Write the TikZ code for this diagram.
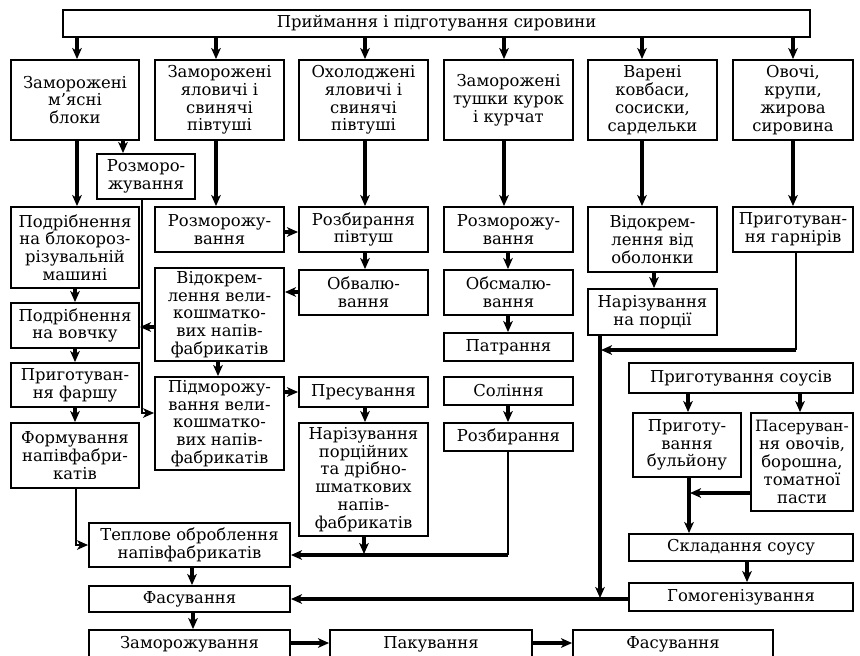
\documentclass[tikz,border=0pt]{standalone}
\usepackage{fontspec}
\setmainfont{DejaVu Serif}
\usetikzlibrary{arrows.meta}
\tikzset{
  box/.style={draw, line width=0.95pt, inner sep=0pt, align=center, font=\fontsize{8.2}{8.9}\selectfont},
  arr/.style={line width=1.6pt, -{Stealth[length=5.5pt,width=4.8pt,inset=1.5pt]}},
  tarr/.style={line width=0.8pt, -{Stealth[length=5.5pt,width=4.8pt,inset=1.5pt]}},
  ln/.style={line width=0.8pt},
}
\newcommand\bx[6]{\node[box, minimum width={(#4-#2)*0.5pt}, minimum height={(#5-#3)*0.5pt}] (#1) at ({(#2+#4)/2},{(#3+#5)/2}) {#6};}
\begin{document}
\begin{tikzpicture}[x=0.5pt,y=-0.5pt]
\useasboundingbox (0,0) rectangle (860,655);
\bx{top}{63}{10}{810}{37}{Приймання і підготування сировини}
\bx{A}{11}{60}{139}{140}{Заморожені\\м’ясні\\блоки}
\bx{B}{155}{60}{284}{140}{Заморожені\\яловичі і\\свинячі\\півтуші}
\bx{C}{299}{60}{428}{140}{Охолоджені\\яловичі і\\свинячі\\півтуші}
\bx{D}{444}{60}{573}{140}{Заморожені\\тушки курок\\і курчат}
\bx{E}{588}{60}{717}{140}{Варені\\ковбаси,\\сосиски,\\сардельки}
\bx{F}{733}{60}{853}{140}{Овочі,\\крупи,\\жирова\\сировина}
\bx{rz}{97}{154}{195}{199}{Розморо-\\жування}
\bx{A1}{11}{207}{139}{288}{Подрібнення\\на блокороз-\\різувальній\\машині}
\bx{A2}{11}{303}{139}{348}{Подрібнення\\на вовчку}
\bx{A3}{11}{363}{139}{407}{Приготуван-\\ня фаршу}
\bx{A4}{11}{423}{139}{488}{Формування\\напівфабри-\\катів}
\bx{B1}{155}{207}{284}{252}{Розморожу-\\вання}
\bx{B2}{155}{268}{284}{361}{Відокрем-\\лення вели-\\кошматко-\\вих напів-\\фабрикатів}
\bx{B3}{155}{377}{284}{470}{Підморожу-\\вання вели-\\кошматко-\\вих напів-\\фабрикатів}
\bx{C1}{299}{207}{428}{252}{Розбирання\\півтуш}
\bx{C2}{299}{270}{428}{315}{Обвалю-\\вання}
\bx{C3}{299}{377}{428}{407}{Пресування}
\bx{C4}{299}{423}{428}{536}{Нарізування\\порційних\\та дрібно-\\шматкових\\напів-\\фабрикатів}
\bx{D1}{444}{207}{573}{252}{Розморожу-\\вання}
\bx{D2}{444}{270}{573}{315}{Обсмалю-\\вання}
\bx{D3}{444}{333}{573}{361}{Патрання}
\bx{D4}{444}{377}{573}{405}{Соління}
\bx{D5}{444}{423}{573}{451}{Розбирання}
\bx{E1}{588}{207}{717}{272}{Відокрем-\\лення від\\оболонки}
\bx{E2}{588}{289}{717}{335}{Нарізування\\на порції}
\bx{F1}{733}{207}{853}{252}{Приготуван-\\ня гарнірів}
\bx{S0}{629}{363}{853}{393}{Приготування соусів}
\bx{S1}{633}{413}{741}{477}{Приготу-\\вання\\бульйону}
\bx{S2}{751}{413}{853}{511}{\fontsize{7.8}{8.9}\selectfont Пасеруван-\\ня овочів,\\борошна,\\томатної\\пасти}
\bx{S3}{629}{534}{853}{561}{Складання соусу}
\bx{S4}{629}{583}{853}{611}{Гомогенізування}
\bx{T1}{89}{523}{290}{567}{Теплове оброблення\\напівфабрикатів}
\bx{T2}{89}{586}{290}{612}{Фасування}
\bx{T3}{89}{630}{290}{659}{Заморожування}
\bx{T4}{330}{630}{532}{659}{Пакування}
\bx{T5}{573}{630}{773}{659}{Фасування}
% top distribution
\foreach \n/\x in {A/77,B/216,C/365,D/504,E/642,F/793}
  \draw[arr] (\x,0 |- top.south) -- (\x,0 |- \n.north);
% column A
\draw[arr] (77,0 |- A.south) -- (77,0 |- A1.north);
\draw[arr] (123,0 |- A.south) -- (123,0 |- rz.north);
\draw[arr] (75,0 |- A1.south) -- (75,0 |- A2.north);
\draw[arr] (75,0 |- A2.south) -- (75,0 |- A3.north);
\draw[arr] (75,0 |- A3.south) -- (75,0 |- A4.north);
\draw[tarr] (142,0 |- rz.south) -- (142,413) -- (B3.west |- 0,413);
\draw[arr] (B2.west |- 0,327) -- (A2.east |- 0,327);
\draw[tarr] (76,0 |- A4.south) -- (76,545) -- (T1.west |- 0,545);
% column B / C
\draw[arr] (216,0 |- B.south) -- (216,0 |- B1.north);
\draw[arr] (B1.east |- 0,232) -- (C1.west |- 0,232);
\draw[arr] (365,0 |- C.south) -- (365,0 |- C1.north);
\draw[arr] (365,0 |- C1.south) -- (365,0 |- C2.north);
\draw[arr] (C2.west |- 0,292) -- (B2.east |- 0,292);
\draw[arr] (218,0 |- B2.south) -- (218,0 |- B3.north);
\draw[arr] (B3.east |- 0,392) -- (C3.west |- 0,392);
\draw[arr] (365,0 |- C3.south) -- (365,0 |- C4.north);
\draw[arr] (364,0 |- C4.south) -- (364,554);
% column D
\draw[arr] (504,0 |- D.south) -- (504,0 |- D1.north);
\draw[arr] (508,0 |- D1.south) -- (508,0 |- D2.north);
\draw[arr] (508,0 |- D2.south) -- (508,0 |- D3.north);
\draw[arr] (508,0 |- D4.south) -- (508,0 |- D5.north);
\draw[ln] (508,0 |- D5.south) -- (508,555);
\draw[arr] (508.4,555) -- (T1.east |- 0,555);
% column E / F
\draw[arr] (642,0 |- E.south) -- (642,0 |- E1.north);
\draw[arr] (654,0 |- E1.south) -- (654,0 |- E2.north);
\draw[arr] (600,0 |- E2.south) -- (600,598);
\draw[arr] (793,0 |- F.south) -- (793,0 |- F1.north);
\draw[ln] (796,0 |- F1.south) -- (796,350);
\draw[arr] (796.4,350) -- (601,350);
% sauces
\draw[arr] (688,0 |- S0.south) -- (688,0 |- S1.north);
\draw[arr] (800,0 |- S0.south) -- (800,0 |- S2.north);
\draw[arr] (689,0 |- S1.south) -- (689,0 |- S3.north);
\draw[arr] (S2.west |- 0,493) -- (690,493);
\draw[arr] (747,0 |- S3.south) -- (747,0 |- S4.north);
\draw[arr] (S4.west |- 0,599) -- (T2.east |- 0,599);
% bottom
\draw[arr] (192,0 |- T1.south) -- (192,0 |- T2.north);
\draw[arr] (193,0 |- T2.south) -- (193,0 |- T3.north);
\draw[arr] (T3.east |- 0,643) -- (T4.west |- 0,643);
\draw[arr] (T4.east |- 0,643) -- (T5.west |- 0,643);
\end{tikzpicture}
\end{document}
